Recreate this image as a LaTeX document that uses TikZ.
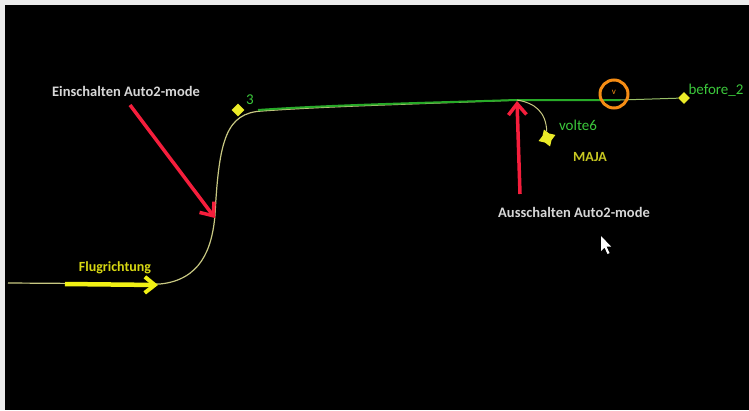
\documentclass[tikz,border=0pt]{standalone}
\usepackage{fontspec}
\setmainfont{Carlito}
\usetikzlibrary{arrows.meta,shapes.geometric,shapes.misc}
\definecolor{trackgreen}{RGB}{40,170,40}
\definecolor{labelgreen}{RGB}{60,200,60}
\definecolor{tracklight}{RGB}{200,200,130}
\definecolor{wpyellow}{RGB}{235,235,40}
\definecolor{markred}{RGB}{245,30,60}
\definecolor{ringorange}{RGB}{245,140,20}
\definecolor{notegray}{RGB}{215,215,215}
\definecolor{flyyellow}{RGB}{240,240,20}
\tikzset{
  waypoint/.style={diamond,fill=wpyellow,inner sep=0pt,minimum size=13pt},
  wplabel/.style={text=labelgreen,font=\fontsize{15}{16}\selectfont,inner sep=0pt},
  note/.style={text=notegray,font=\bfseries\fontsize{14.5}{16}\selectfont,inner sep=0pt},
  redarrow/.style={draw=markred,line width=3.5pt,-{Straight Barb[length=11pt,width=18pt,line width=3.5pt]}},
  flyarrow/.style={draw=flyyellow,line width=4.5pt,-{Straight Barb[length=10pt,width=16pt,line width=4pt]}},
}
\begin{document}
\begin{tikzpicture}[x=1pt,y=-1pt]
  % frame and dark screen
  \fill[white!85!gray] (0,0) rectangle (749,410);
  \fill[black] (5,5) rectangle (749,410);
  \useasboundingbox (0,0) rectangle (749,410);

  % waypoints
  \node[waypoint] (wp3) at (238,110) {};
  \node[waypoint,minimum size=12pt] (wpb) at (684,98) {};
  \node[star,star points=4,star point ratio=1.8,fill=wpyellow,inner sep=0pt,minimum size=18pt,rotate=20] (wpv) at (547,138) {};
  \coordinate (start) at (8,283);
  \coordinate (turn) at (517,100);
  \coordinate (ringpt) at (620,100);

  % flown track
  \draw[tracklight,line width=1.2pt] (start) -- (160,284)
     .. controls (200,280) and (212,250) .. (215,215)
     .. controls (219,140) and (226,113) .. (262,111)
     .. controls (330,106) and (420,104) .. (turn);
  \draw[trackgreen,line width=2pt] (258,110) .. controls (330,105) and (420,103) .. (turn) -- (ringpt);
  \draw[tracklight!70!trackgreen,line width=1pt] (ringpt) -- (wpb);
  \draw[tracklight,line width=1pt] (turn) .. controls (535,103) and (546,112) .. (wpv);

  % orange ring on the track
  \node[circle,draw=ringorange,line width=3pt,minimum size=28pt,inner sep=0pt] (ring) at (614,94) {};
  \node[text=ringorange,font=\fontsize{9}{9}\selectfont,inner sep=0pt] (ringmark) at (614,92) {v};

  % labels
  \node[wplabel] (l3) at (250,100) {3};
  \node[wplabel] (lb) at (716,90) {before\_2};
  \node[wplabel] (lv) at (578,125) {volte6};
  \node[text=wpyellow!85!black,font=\bfseries\fontsize{14}{15}\selectfont,inner sep=0pt] (maja) at (590,157) {MAJA};
  \node[note] (ein) at (126,91) {Einschalten Auto2-mode};
  \node[note] (aus) at (574,212) {Ausschalten Auto2-mode};
  \node[text=flyyellow!90!black,font=\bfseries\fontsize{14}{15}\selectfont,inner sep=0pt] (flug) at (115,268) {Flugrichtung};

  % direction arrows
  \coordinate (einA) at (130,105);
  \coordinate (einB) at (215,218);
  \coordinate (ausA) at (520,194);
  \coordinate (ausB) at (517,101);
  \coordinate (flyA) at (65,284);
  \coordinate (flyB) at (158,285);
  \draw[redarrow] (einA) -- (einB);
  \draw[redarrow] (ausA) -- (ausB);
  \draw[flyarrow] (flyA) -- (flyB);

  % mouse pointer
  \fill[white] (601,236) -- (601,251) -- (604.5,247.5) -- (607.5,254) -- (609.5,253) -- (606.5,246.5) -- (611,246.5) -- cycle;
\end{tikzpicture}
\end{document}
